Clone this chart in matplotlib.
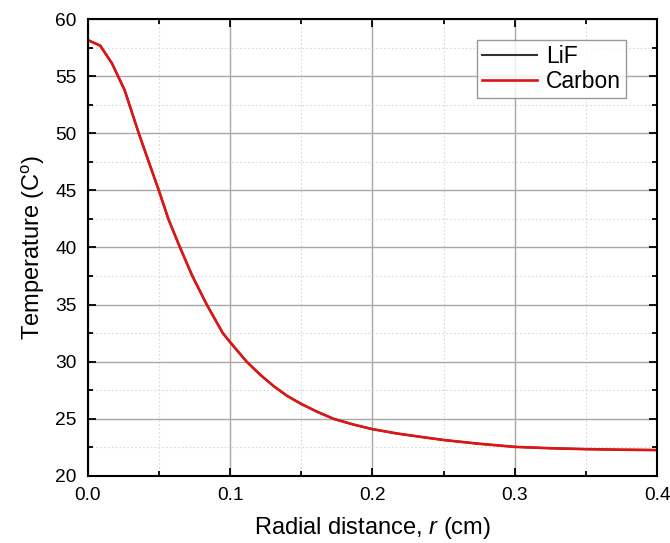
import numpy as np
import matplotlib
matplotlib.use('Agg')
import matplotlib.pyplot as plt
from matplotlib.ticker import MultipleLocator, FormatStrFormatter

plt.rcParams['font.family'] = ['Liberation Sans', 'DejaVu Sans']
plt.rcParams['mathtext.fontset'] = 'custom'
plt.rcParams['mathtext.rm'] = 'Liberation Sans'
plt.rcParams['mathtext.it'] = 'Liberation Sans:italic'

# radial distance (cm) and temperature (C)
r = [0.0, 0.0086, 0.0168, 0.0257, 0.0357, 0.0427, 0.0498, 0.0565, 0.0647, 0.0734,
     0.0835, 0.0948, 0.1, 0.1116, 0.1211, 0.1305, 0.1399, 0.15, 0.161,
     0.1727, 0.1867, 0.2, 0.2172, 0.2336, 0.25, 0.275, 0.3, 0.325, 0.35,
     0.375, 0.4]
T_carbon = [58.15, 57.67, 56.13, 53.8, 50.0, 47.5, 45.0, 42.5, 40.0, 37.5,
            35.0, 32.5, 31.7, 30.0, 28.86, 27.87, 27.02, 26.3, 25.63,
            25.0, 24.5, 24.1, 23.72, 23.43, 23.15, 22.82, 22.55, 22.43, 22.35,
            22.3, 22.27]
T_lif = T_carbon  # LiF curve sits exactly under the carbon one

fig = plt.figure(figsize=(6.7, 5.43), dpi=100)
ax = fig.add_axes([0.1313, 0.1234, 0.8493, 0.8416])

ax.plot(r, T_lif, color='#333333', lw=1.5, label='LiF')
ax.plot(r, T_carbon, color='#dd1515', lw=1.9, label='Carbon')

ax.set_xlim(0, 0.4)
ax.set_ylim(20, 60)
ax.xaxis.set_major_locator(MultipleLocator(0.1))
ax.xaxis.set_minor_locator(MultipleLocator(0.05))
ax.yaxis.set_major_locator(MultipleLocator(5))
ax.yaxis.set_minor_locator(MultipleLocator(2.5))
ax.xaxis.set_major_formatter(FormatStrFormatter('%.1f'))

ax.grid(which='major', color='#a8a8a8', lw=1.0)
ax.grid(which='minor', color='#d8d8d8', lw=0.8, ls=(0, (1.5, 2)))
ax.set_axisbelow(True)

ax.tick_params(which='both', direction='in', top=True, right=True, width=1.3, labelsize=13.8)
ax.tick_params(which='major', length=6, pad=8)
ax.tick_params(which='minor', length=3.5)
for s in ax.spines.values():
    s.set_linewidth(1.5)

ax.set_xlabel(r'Radial distance, $\it{r}$ (cm)', fontsize=17, labelpad=8)
ax.set_ylabel(r'Temperature (C$^{\mathrm{o}}$)', fontsize=17, labelpad=6)

leg = ax.legend(loc='upper right', bbox_to_anchor=(0.946, 0.955), fontsize=16.5,
                fancybox=False, edgecolor='#808080', handlelength=2.4,
                borderpad=0.22, labelspacing=0.12, handletextpad=0.4,
                borderaxespad=0)
leg.get_frame().set_linewidth(1.0)

fig.savefig('out.png', dpi=100)
